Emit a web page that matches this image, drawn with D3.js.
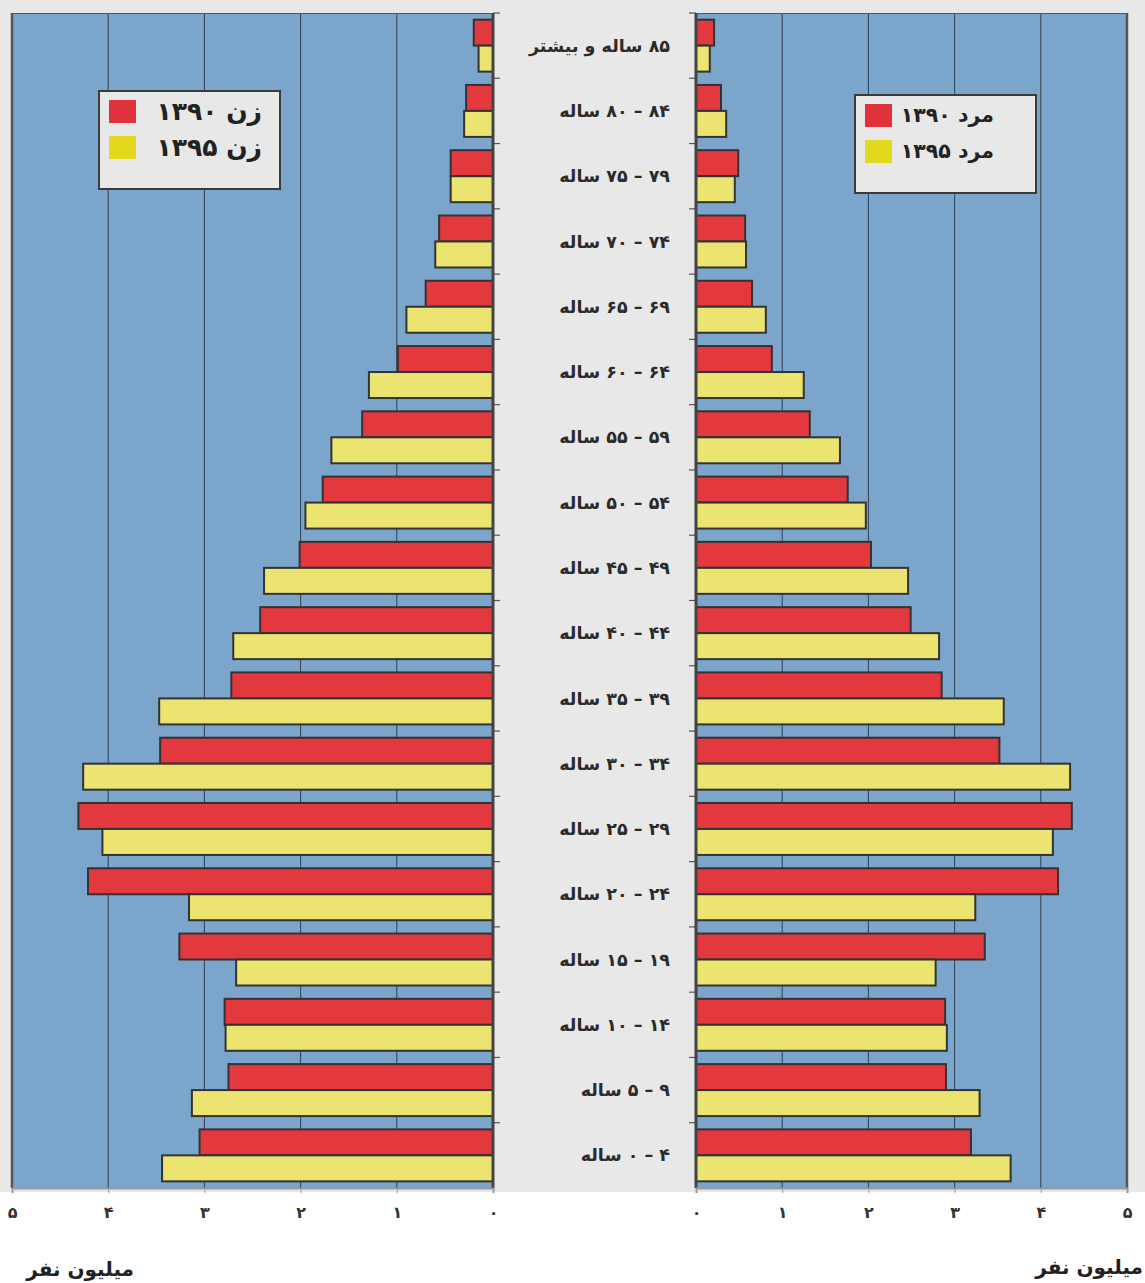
<!DOCTYPE html>
<html>
<head>
<meta charset="utf-8">
<script src="https://cdn.jsdelivr.net/npm/d3@7"></script>
<style>
  html, body { margin: 0; padding: 0; background: #ffffff; }
  svg { display: block; }
</style>
</head>
<body>
<svg id="chart" width="1145" height="1283"></svg>
<script>
// ---- data ----
const ageGroups = ["۸۵ ساله و بیشتر", "۸۴ – ۸۰ ساله", "۷۹ – ۷۵ ساله", "۷۴ – ۷۰ ساله", "۶۹ – ۶۵ ساله",
  "۶۴ – ۶۰ ساله", "۵۹ – ۵۵ ساله", "۵۴ – ۵۰ ساله", "۴۹ – ۴۵ ساله", "۴۴ – ۴۰ ساله", "۳۹ – ۳۵ ساله",
  "۳۴ – ۳۰ ساله", "۲۹ – ۲۵ ساله", "۲۴ – ۲۰ ساله", "۱۹ – ۱۵ ساله", "۱۴ – ۱۰ ساله", "۹ – ۵ ساله", "۴ – ۰ ساله"];
const years = ["1390", "1395"];
// women (million persons)
const women1390 = [0.20, 0.28, 0.44, 0.56, 0.70, 0.99, 1.36, 1.77, 2.01, 2.42, 2.72, 3.46, 4.31, 4.21, 3.26, 2.79, 2.75, 3.05];
const women1395 = [0.15, 0.30, 0.44, 0.60, 0.90, 1.29, 1.68, 1.95, 2.38, 2.70, 3.47, 4.26, 4.06, 3.16, 2.67, 2.78, 3.13, 3.44];
// men (million persons)
const men1390 = [0.21, 0.29, 0.49, 0.57, 0.65, 0.88, 1.32, 1.76, 2.03, 2.49, 2.85, 3.52, 4.36, 4.20, 3.35, 2.89, 2.90, 3.19];
const men1395 = [0.16, 0.35, 0.45, 0.58, 0.81, 1.25, 1.67, 1.97, 2.46, 2.82, 3.57, 4.34, 4.14, 3.24, 2.78, 2.91, 3.29, 3.65];
const tickValues = [0, 1, 2, 3, 4, 5];
const tickLabels = ["۰", "۱", "۲", "۳", "۴", "۵"];
const womenLegend = ["زن ۱۳۹۰", "زن ۱۳۹۵"];
const menLegend = ["مرد ۱۳۹۰", "مرد ۱۳۹۵"];
const unitLabel = "میلیون نفر";

// ---- styles ----
const barColor = { "1390": "#e2383e", "1395": "#ebe470" };
const legendColor = { "1390": "#e0323a", "1395": "#e3d81b" };
const plotBg = "#7ca5cb";
const font = "'DejaVu Sans', sans-serif";

const svg = d3.select("#chart");
svg.append("rect").attr("x", 0).attr("y", 0).attr("width", 1145).attr("height", 1192).attr("fill", "#e8e8e8");

const plotTop = 13, plotBottom = 1188;
const y = d3.scaleBand().domain(ageGroups).range([plotTop, plotBottom]).paddingInner(0).paddingOuter(0);
const ySub = d3.scaleBand().domain(years).range([0, y.bandwidth()]).paddingInner(0).paddingOuter(0.256);

const xL = d3.scaleLinear().domain([0, 5]).range([493, 12]);
const xR = d3.scaleLinear().domain([0, 5]).range([696, 1127]);

function panel(x, dataA, dataB, side) {
  const g = svg.append("g");
  const x0 = x(0), x5 = x(5);
  g.append("rect")
    .attr("x", Math.min(x0, x5)).attr("y", plotTop)
    .attr("width", Math.abs(x5 - x0)).attr("height", plotBottom - plotTop)
    .attr("fill", plotBg);
  // grid
  g.selectAll("line.grid").data(tickValues.filter(v => v > 0 && v < 5)).enter().append("line")
    .attr("x1", d => x(d)).attr("x2", d => x(d)).attr("y1", plotTop).attr("y2", plotBottom)
    .attr("stroke", "#2f3f52").attr("stroke-width", 1);
  // top border
  g.append("line").attr("x1", x0).attr("x2", x5).attr("y1", plotTop + 0.5).attr("y2", plotTop + 0.5)
    .attr("stroke", "#555").attr("stroke-width", 1);
  // outer edge
  g.append("line").attr("x1", x5).attr("x2", x5).attr("y1", plotTop).attr("y2", plotBottom)
    .attr("stroke", "#555").attr("stroke-width", 2.5);
  // bars
  const series = [{ key: "1390", vals: dataA }, { key: "1395", vals: dataB }];
  series.forEach(s => {
    g.selectAll("rect.b" + s.key).data(s.vals).enter().append("rect")
      .attr("x", d => Math.min(x(0), x(d)))
      .attr("width", d => Math.abs(x(d) - x(0)))
      .attr("y", (d, i) => y(ageGroups[i]) + ySub(s.key))
      .attr("height", ySub.bandwidth())
      .attr("fill", barColor[s.key])
      .attr("stroke", "#333").attr("stroke-width", 2);
  });
  // center axis with group ticks
  const dir = side === "left" ? 1 : -1;
  const bounds = ageGroups.map(a => y(a));
  g.selectAll("line.gt").data(bounds).enter().append("line")
    .attr("x1", x0).attr("x2", x0 + dir * 7).attr("y1", d => d).attr("y2", d => d)
    .attr("stroke", "#555").attr("stroke-width", 1.2);
  g.append("line").attr("x1", x0).attr("x2", x0).attr("y1", plotTop).attr("y2", plotBottom)
    .attr("stroke", "#444").attr("stroke-width", 3);
  // bottom axis
  const axis = d3.axisBottom(x).tickValues(tickValues).tickSize(5).tickFormat((d, i) => tickLabels[i]);
  const ax = g.append("g").attr("transform", `translate(0,${plotBottom})`).call(axis);
  ax.select(".domain").attr("stroke", "#999").attr("stroke-width", 2);
  ax.selectAll(".tick line").attr("stroke", "#999");
  ax.selectAll(".tick text").attr("font-family", font).attr("font-size", 16).attr("font-weight", "bold")
    .attr("fill", "#333").attr("y", 19).attr("dy", "0.71em");
}

panel(xL, women1390, women1395, "left");
panel(xR, men1390, men1395, "right");

// center labels
svg.append("g").selectAll("text").data(ageGroups).enter().append("text")
  .attr("x", 670).attr("y", d => y(d) + y.bandwidth() / 2)
  .attr("dy", "0.35em")
  .attr("direction", "rtl").attr("text-anchor", "start")
  .attr("font-family", font).attr("font-weight", "bold").attr("font-size", 17.5)
  .attr("fill", "#2b2b2b")
  .text(d => d);

// legends
function legend(bx, by, labels, textRight, fs) {
  const g = svg.append("g");
  g.append("rect").attr("x", bx).attr("y", by).attr("width", 181).attr("height", 98)
    .attr("fill", "#e8e8e8").attr("stroke", "#3a3a3a").attr("stroke-width", 2);
  years.forEach((k, i) => {
    g.append("rect").attr("x", bx + 10).attr("y", by + 9 + i * 36).attr("width", 27).attr("height", 23)
      .attr("fill", legendColor[k]);
    g.append("text").attr("x", textRight).attr("y", by + 20 + i * 36).attr("dy", "0.35em")
      .attr("direction", "rtl").attr("text-anchor", "start")
      .attr("font-family", font).attr("font-weight", "bold").attr("font-size", fs).attr("fill", "#222")
      .text(labels[i]);
  });
}
legend(99, 91, womenLegend, 262, 25);
legend(855, 95, menLegend, 994, 20.5);

// unit labels
svg.append("text").attr("x", 134).attr("y", 1269).attr("dy", "0.35em")
  .attr("direction", "rtl").attr("text-anchor", "start")
  .attr("font-family", font).attr("font-weight", "bold").attr("font-size", 20).attr("fill", "#222").text(unitLabel);
svg.append("text").attr("x", 1143).attr("y", 1267).attr("dy", "0.35em")
  .attr("direction", "rtl").attr("text-anchor", "start")
  .attr("font-family", font).attr("font-weight", "bold").attr("font-size", 20).attr("fill", "#222").text(unitLabel);
</script>
</body>
</html>
